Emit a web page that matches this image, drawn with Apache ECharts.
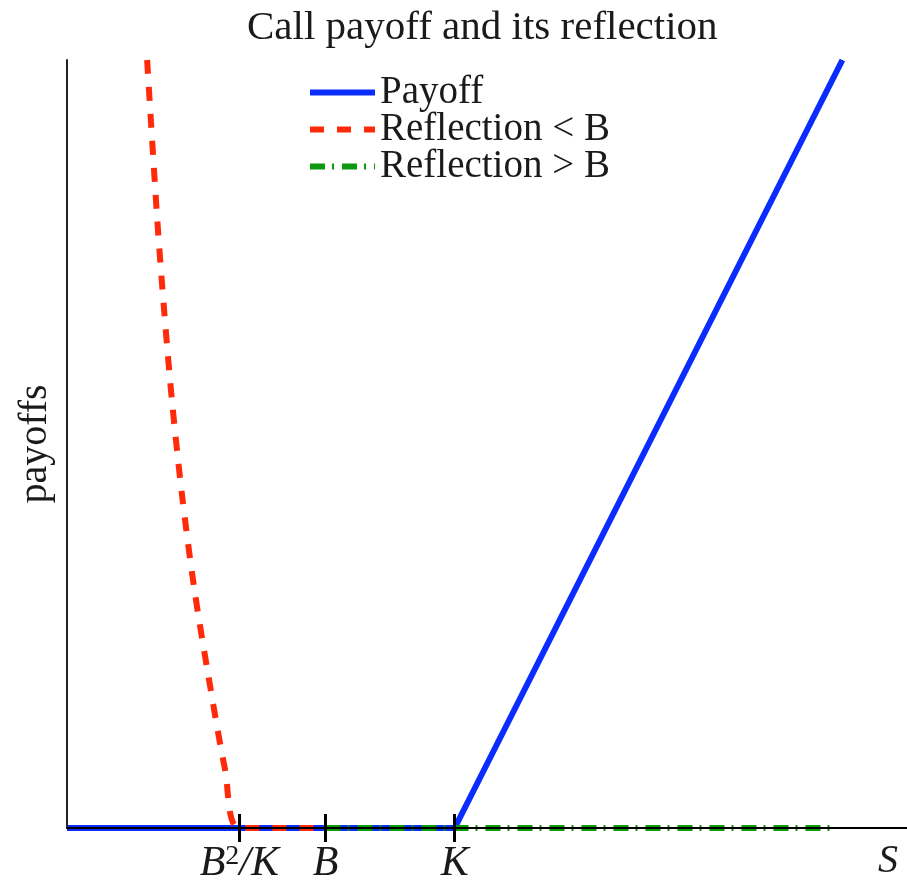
<!DOCTYPE html>
<html>
<head>
<meta charset="utf-8">
<script src="https://cdn.jsdelivr.net/npm/echarts@6/dist/echarts.min.js"></script>
<style>html,body{margin:0;padding:0;background:#fff}#c{width:907px;height:884px}</style>
</head>
<body>
<div id="c"></div>
<script>
// ---- data ----
const B = 1, K = 1.5;
const tickValues = [B * B / K, B, K];
const tickLabels = ['{i|B}{sup|2}{i|/K}', '{i|B}', '{i|K}'];
const payoffS = [0, 1.5, 3];
const payoffV = [0, 0, 1.5];
const refLowS = [0.31, 0.349, 0.376, 0.407, 0.446, 0.492, 0.547, 0.612, 0.667, 1.0];
const refLowV = [1.5, 1.19, 1.01, 0.83, 0.646, 0.469, 0.297, 0.113, 0, 0];
const refHighS = [1, 2.96];
const refHighV = [0, 0];
const seriesNames = ['Payoff', 'Reflection < B', 'Reflection > B'];

const zip = (a, b) => a.map((v, i) => [v, b[i]]);
const serif = 'Liberation Serif';
const chart = echarts.init(document.getElementById('c'));
chart.setOption({
  animation: false,
  backgroundColor: '#fff',
  title: {
    text: 'Call payoff and its reflection',
    left: 242, top: 3,
    textStyle: { fontFamily: serif, fontSize: 41, fontWeight: 'normal', color: '#1a1a1a' }
  },
  legend: {
    orient: 'vertical', left: 307, top: 73, itemGap: -2, padding: 0,
    itemWidth: 65, itemHeight: 14,
    data: seriesNames,
    lineStyle: { width: 6 },
    itemStyle: { opacity: 0 },
    textStyle: { fontFamily: serif, fontSize: 39, color: '#1a1a1a', lineHeight: 36 }
  },
  grid: { left: 67, right: 0, top: 60, bottom: 56, outerBoundsMode: 'none', containLabel: false },
  xAxis: [{
    type: 'value', min: 0, max: 3.25, z: 10,
    name: 'S', nameLocation: 'end', nameGap: -19,
    nameTextStyle: { fontFamily: serif, fontStyle: 'italic', fontSize: 40, color: '#1a1a1a',
      align: 'center', verticalAlign: 'top', padding: [13, 0, 0, 0] },
    axisLine: { onZero: false, lineStyle: { color: '#000', width: 2 } },
    splitLine: { show: false },
    axisTick: { show: true, customValues: tickValues, length: 14, lineStyle: { color: '#000', width: 3 } },
    axisLabel: {
      customValues: tickValues, margin: 15,
      formatter: (v) => tickLabels[tickValues.findIndex(t => Math.abs(t - v) < 1e-6)] || '',
      rich: {
        i: { fontFamily: serif, fontStyle: 'italic', fontSize: 42, color: '#1a1a1a', lineHeight: 42 },
        sup: { fontFamily: serif, fontSize: 28, color: '#1a1a1a', lineHeight: 30, verticalAlign: 'top' }
      }
    }
  }, {
    type: 'value', min: 0, max: 3.25, position: 'bottom', z: 10,
    axisLine: { show: false, onZero: false },
    splitLine: { show: false },
    axisTick: { show: true, inside: true, customValues: tickValues, length: 14, lineStyle: { color: '#000', width: 3 } },
    axisLabel: { show: false }
  }],
  yAxis: {
    type: 'value', min: 0, max: 1.5, z: 10,
    name: 'payoffs', nameLocation: 'middle', nameRotate: 90, nameGap: 12,
    nameTextStyle: { fontFamily: serif, fontSize: 40, color: '#1a1a1a' },
    axisLine: { show: true, lineStyle: { color: '#222', width: 2 } },
    axisTick: { show: false }, axisLabel: { show: false }, splitLine: { show: false }
  },
  series: [{
    name: seriesNames[0], type: 'line', showSymbol: false, symbol: 'none',
    data: zip(payoffS, payoffV),
    lineStyle: { color: '#0a2cff', width: 6 }, itemStyle: { color: '#0a2cff' }
  }, {
    name: seriesNames[1], type: 'line', showSymbol: false, symbol: 'none', smooth: 0.3,
    data: zip(refLowS, refLowV),
    lineStyle: { color: '#ff2a0a', width: 6, type: [14, 13], cap: 'butt' }, itemStyle: { color: '#ff2a0a' }
  }, {
    name: seriesNames[2], type: 'line', showSymbol: false, symbol: 'none',
    data: zip(refHighS, refHighV),
    lineStyle: { color: '#0a9a0a', width: 6, type: [15, 7, 2, 8], cap: 'butt' }, itemStyle: { color: '#0a9a0a' }
  }]
});
</script>
</body>
</html>
